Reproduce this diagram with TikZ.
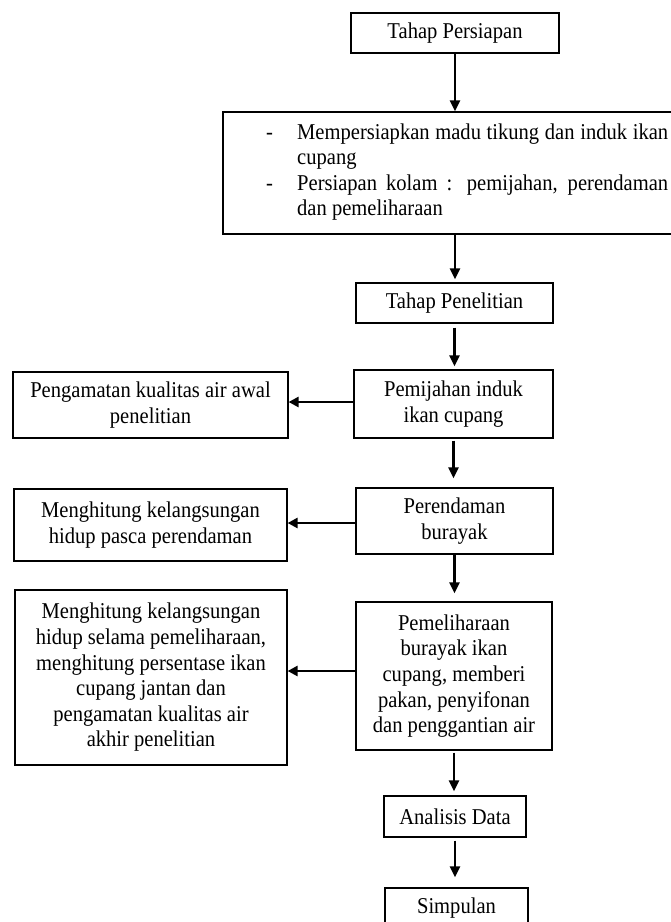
\documentclass[tikz,border=0pt]{standalone}
\usepackage{fontspec}
\setmainfont{Liberation Serif}[FakeStretch=0.91]
\usetikzlibrary{arrows.meta,calc}
\begin{document}
\begin{tikzpicture}[x=1pt,y=-1pt,
 txt/.style={font=\fontsize{22.6}{25.6}\selectfont},
 box/.style={draw,line width=1.2pt,inner sep=0pt,align=center,txt},
 arr/.style={line width=2.4pt,-{Triangle[length=11pt,width=10pt]}},
 harr/.style={line width=2.8pt,-{Triangle[length=10pt,width=10pt]}}]
\useasboundingbox (0,0) rectangle (671,922);
\clip (0,0) rectangle (671,922);
\fill[white] (0,0) rectangle (671,922);

\node[box,minimum width=208pt,minimum height=40pt] (persiapan) at (455,33) {Tahap Persiapan};
\node[box,minimum width=480pt,minimum height=122pt] (prep) at (463,173) {};
\node[txt,anchor=west,inner sep=0pt,align=left] (preptext) at (266,172) {%
\makebox[31pt][l]{-}\makebox[371pt][s]{Mempersiapkan madu tikung dan induk ikan}\\
\hspace*{31pt}cupang\\
\makebox[31pt][l]{-}\makebox[371pt][s]{Persiapan kolam : pemijahan, perendaman}\\
\hspace*{31pt}dan pemeliharaan};
\node[box,minimum width=197pt,minimum height=40pt] (penelitian) at (454.5,303) {Tahap Penelitian};
\node[box,minimum width=199pt,minimum height=68pt] (pemijahan) at (453.5,404) {Pemijahan induk\\ikan cupang};
\node[box,minimum width=275pt,minimum height=66pt] (pengamatan) at (150.5,405) {Pengamatan kualitas air awal\\penelitian};
\node[box,minimum width=197pt,minimum height=66pt] (perendaman) at (454.5,521) {Perendaman\\burayak};
\node[box,minimum width=273pt,minimum height=72pt] (hitung1) at (150.5,525) {Menghitung kelangsungan\\hidup pasca perendaman};
\node[box,minimum width=196pt,minimum height=148pt] (pemeliharaan) at (454,676) {Pemeliharaan\\burayak ikan\\cupang, memberi\\pakan, penyifonan\\dan penggantian air};
\node[box,minimum width=272pt,minimum height=175pt] (hitung2) at (151,677.5) {Menghitung kelangsungan\\hidup selama pemeliharaan,\\menghitung persentase ikan\\cupang jantan dan\\pengamatan kualitas air\\akhir penelitian};
\node[box,minimum width=142pt,minimum height=41pt] (analisis) at (455,816.5) {Analisis Data};
\node[box,minimum width=143pt,minimum height=41pt] (simpulan) at (456.5,908.5) {Simpulan};

\draw[arr] (persiapan.south) -- (persiapan.south |- prep.north);
\draw[arr,shorten >=3pt] (persiapan.south |- prep.south) -- (persiapan.south |- penelitian.north);
\draw[arr,shorten <=4pt,shorten >=3pt] (penelitian.south) -- (penelitian.south |- pemijahan.north);
\draw[arr,shorten <=2pt,shorten >=9pt] (pemijahan.south) -- (pemijahan.south |- perendaman.north);
\draw[arr,shorten >=8pt] (perendaman.south) -- (perendaman.south |- pemeliharaan.north);
\draw[arr,shorten <=2pt,shorten >=4pt] (pemeliharaan.south) -- (pemeliharaan.south |- analisis.north);
\draw[arr,shorten <=3pt,shorten >=10pt] (analisis.south) -- (analisis.south |- simpulan.north);

\draw[harr] (pemijahan.west |- 0,402) -- (pengamatan.east |- 0,402);
\draw[harr] (perendaman.west |- 0,523) -- (hitung1.east |- 0,523);
\draw[harr] (pemeliharaan.west |- 0,671) -- (hitung2.east |- 0,671);
\end{tikzpicture}
\end{document}
